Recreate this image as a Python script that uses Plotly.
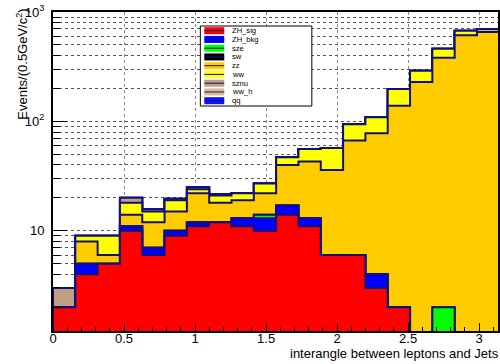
import numpy as np
import plotly.graph_objects as go

# ---- data (20 bins from 0 to pi) ----
names = ["ZH_sig", "ZH_bkg", "sze", "sw", "zz", "ww", "sznu", "ww_h", "qq"]
colors = ["#ff0000", "#0000ff", "#00ff00", "#000000", "#ffcc00", "#ffff00",
          "#bfa083", "#dcbc8e", "#1010ff"]
zh_sig = [2, 4, 5, 10, 6, 9, 11, 12, 11, 10, 14, 11, 6, 6, 3, 2, 0, 0, 0, 0]
zh_bkg = [0, 1, 0, 1, 1, 1, 1, 0, 2, 3, 3, 2, 0, 0, 1, 0, 0, 0, 0, 0]
sze    = [0, 0, 0, 0, 0, 0, 0, 0, 0, 1, 0, 0, 0, 0, 0, 0, 0, 2, 0, 0]
sw     = [0] * 20
zz     = [0, 3, 1, 3, 5, 5, 10, 6, 6, 8, 23, 30, 30, 61, 74, 137, 229, 380, 612, 655]
ww     = [0, 1, 3, 4, 3, 4, 2, 3, 3, 5, 7, 13, 21, 27, 31, 59, 62, 80, 63, 40]
sznu   = [1, 0, 0, 2, 0.7, 0.6, 1, 0.7, 0, 0, 0, 0, 0, 0, 0, 0, 0, 0, 0, 0]
ww_h   = [0] * 20
qq     = [0] * 20
series = [zh_sig, zh_bkg, sze, sw, zz, ww, sznu, ww_h, qq]

x_ticks = [0, 0.5, 1, 1.5, 2, 2.5, 3]
x_ticktext = ["0", "0.5", "1", "1.5", "2", "2.5", "3"]
y_ticks = [10, 100, 1000]
y_ticktext = ["10", "10<sup>2</sup>", "10<sup>3</sup>"]

nbins = 20
edges = np.linspace(0, np.pi, nbins + 1)
floor = 1e-2
cum = np.cumsum(np.array(series, dtype=float), axis=0)

NAVY = "#10107a"
fig = go.Figure()
for k in range(len(series) - 1, -1, -1):
    c = np.where(cum[k] > 0, cum[k], floor)
    xs = [edges[0]] + list(edges[:-1]) + [edges[-1], edges[-1]]
    ys = [floor] + list(c) + [c[-1], floor]
    fig.add_trace(go.Scatter(
        x=xs, y=ys, mode="lines", line=dict(shape="hv", color=NAVY, width=2),
        fill="tozeroy", fillcolor=colors[k], showlegend=False, hoverinfo="skip",
        name=names[k]))

# pixel -> paper helpers for plot-area geometry
L, T, W, H = 53, 12, 447, 319
def PX(x): return (x - L) / W
def PY(y): return (T + H - y) / H

minor_y = [m * 10 ** e for e in range(0, 3) for m in range(2, 10)]

fig.update_layout(
    width=500, height=364,
    margin=dict(l=L, r=500 - L - W, t=T, b=364 - T - H),
    paper_bgcolor="white", plot_bgcolor="white",
    font=dict(family="Liberation Sans, Arial, sans-serif", color="black", size=13),
    xaxis=dict(range=[0, W / 142.7], showline=True, linecolor="black", linewidth=2,
               mirror=True, ticks="inside", ticklen=8, tickcolor="black",
               tickvals=x_ticks, ticktext=x_ticktext, showgrid=True,
               gridcolor="#888888", griddash="dot", gridwidth=1, zeroline=False,
               ticklabelstandoff=-6,
               minor=dict(ticks="inside", ticklen=4, dtick=0.1, tickcolor="black",
                          showgrid=False),
               tickfont=dict(size=13)),
    yaxis=dict(type="log", range=[0.084, 3], showline=True, linecolor="black",
               linewidth=2, mirror=True, ticks="inside", ticklen=14,
               tickcolor="black", tickvals=y_ticks, ticktext=y_ticktext,
               showgrid=True, gridcolor="#555555", griddash="dot", gridwidth=1,
               zeroline=False, ticklabelstandoff=4,
               minor=dict(ticks="inside", ticklen=7, tickvals=minor_y,
                          tickcolor="black", showgrid=True, gridcolor="#555555",
                          griddash="dot", gridwidth=1),
               tickfont=dict(size=13)),
)

# axis titles
fig.add_annotation(text="Events/(0.5GeV/c<sup>2</sup>)", textangle=-90,
                   xref="paper", yref="paper", x=PX(21), y=PY(7),
                   xanchor="center", yanchor="top", showarrow=False,
                   font=dict(size=13))
fig.add_annotation(text="interangle between leptons and Jets",
                   xref="paper", yref="paper", x=PX(503), y=PY(353),
                   xanchor="right", yanchor="middle", showarrow=False,
                   font=dict(size=13))

# legend box (ROOT TLegend style)
fig.add_shape(type="rect", xref="paper", yref="paper",
              x0=PX(201), x1=PX(313), y0=PY(106), y1=PY(26),
              line=dict(color="black", width=1), fillcolor="white", layer="above")
for i, (nm, col) in enumerate(zip(names, colors)):
    yc = 30.7 + 8.75 * i
    fig.add_shape(type="rect", xref="paper", yref="paper",
                  x0=PX(205), x1=PX(225), y0=PY(yc + 3.5), y1=PY(yc - 3.5),
                  line=dict(width=0), fillcolor=col, layer="above")
    fig.add_shape(type="line", xref="paper", yref="paper",
                  x0=PX(205), x1=PX(225), y0=PY(yc), y1=PY(yc),
                  line=dict(color=NAVY, width=1), layer="above")
    fig.add_annotation(text=nm, xref="paper", yref="paper", x=PX(231), y=PY(yc),
                       xanchor="left", yanchor="middle", showarrow=False,
                       font=dict(size=7.6))

fig.write_html("out.html")
